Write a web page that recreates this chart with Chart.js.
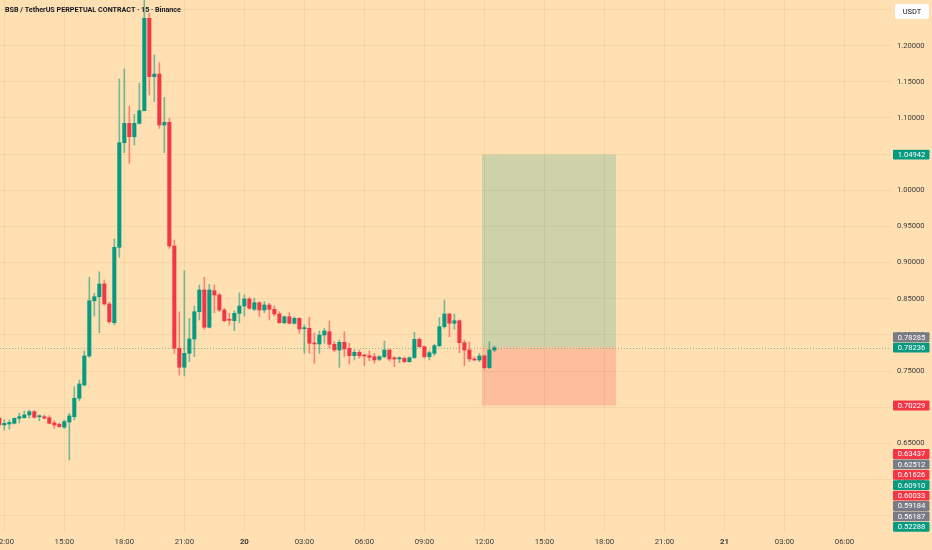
<!DOCTYPE html>
<html>
<head>
<meta charset="utf-8">
<script src="https://cdn.jsdelivr.net/npm/chart.js@4.4.0/dist/chart.umd.min.js"></script>
<style>
  html, body { margin: 0; padding: 0; background: #ffe0b2; }
</style>
</head>
<body>
<canvas id="chart" width="932" height="550"></canvas>
<script>
// 15 minute candles, index 0 = 12:00 on the 19th
const firstIndex = -1;

const opens = [
  0.6850, 0.6754, 0.6768, 0.6777, 0.6846, 0.6854, 0.6892, 0.6937, 0.6868, 0.6868,
  0.6854, 0.6782, 0.6764, 0.6723, 0.6795, 0.6868, 0.7123, 0.7307, 0.7708, 0.8472,
  0.8528, 0.8704, 0.8427, 0.8168, 0.9211, 1.0658, 1.0926, 1.0741, 1.0926, 1.1101,
  1.2379, 1.1571, 1.1608, 1.0903, 1.0940, 0.9229, 0.7814, 0.7552, 0.7745, 0.7943,
  0.8320, 0.8621, 0.8105, 0.8611, 0.8552, 0.8344, 0.8209, 0.8196, 0.8298, 0.8399,
  0.8496, 0.8354, 0.8445, 0.8344, 0.8413, 0.8354, 0.8289, 0.8168, 0.8251, 0.8160,
  0.8229, 0.8086, 0.8091, 0.7884, 0.7874, 0.7998, 0.8044, 0.7870, 0.7791, 0.7897,
  0.7814, 0.7712, 0.7759, 0.7717, 0.7712, 0.7698, 0.7662, 0.7698, 0.7791, 0.7684,
  0.7667, 0.7676, 0.7629, 0.7684, 0.7939, 0.7836, 0.7698, 0.7745, 0.7850, 0.8113,
  0.8289, 0.8160, 0.8196, 0.7892, 0.7791, 0.7667, 0.7653, 0.7708, 0.7546, 0.7791
];
const highs = [
  0.6892, 0.6823, 0.6823, 0.6850, 0.6919, 0.6947, 0.6961, 0.6954, 0.6892, 0.6892,
  0.6882, 0.6813, 0.6777, 0.6823, 0.6915, 0.7284, 0.7376, 0.7777, 0.8796, 0.8575,
  0.8874, 0.8759, 0.8455, 0.9326, 1.1539, 1.1678, 1.1166, 1.1051, 1.1480, 1.2743,
  1.2448, 1.1871, 1.1765, 1.1286, 1.0996, 0.9312, 0.8320, 0.8888, 0.8229, 0.8399,
  0.8690, 0.8796, 0.8700, 0.8690, 0.8575, 0.8368, 0.8298, 0.8330, 0.8583, 0.8552,
  0.8520, 0.8506, 0.8459, 0.8459, 0.8436, 0.8399, 0.8320, 0.8261, 0.8307, 0.8251,
  0.8237, 0.8137, 0.8243, 0.8022, 0.8054, 0.8091, 0.8192, 0.7906, 0.7929, 0.8044,
  0.7884, 0.7791, 0.7791, 0.7735, 0.7777, 0.7745, 0.7712, 0.7915, 0.7801, 0.7698,
  0.7698, 0.7698, 0.7698, 0.8036, 0.7961, 0.7846, 0.7777, 0.7870, 0.8237, 0.8482,
  0.8298, 0.8289, 0.8206, 0.7929, 0.7906, 0.7698, 0.7745, 0.7722, 0.7906, 0.7846
];
const lows = [
  0.6698, 0.6684, 0.6698, 0.6768, 0.6782, 0.6850, 0.6850, 0.6850, 0.6813, 0.6837,
  0.6768, 0.6708, 0.6723, 0.6708, 0.6269, 0.6823, 0.7090, 0.7293, 0.7690, 0.8261,
  0.8030, 0.8413, 0.8160, 0.8137, 0.9073, 1.0520, 1.0373, 1.0626, 1.0917, 1.1097,
  1.1318, 1.1225, 1.0857, 1.0520, 0.9197, 0.7745, 0.7445, 0.7431, 0.7629, 0.7698,
  0.8206, 0.8077, 0.8095, 0.8307, 0.8320, 0.8182, 0.8137, 0.8058, 0.8168, 0.8261,
  0.8354, 0.8334, 0.8251, 0.8307, 0.8206, 0.8261, 0.8160, 0.8150, 0.8150, 0.8150,
  0.8022, 0.7745, 0.7745, 0.7607, 0.7745, 0.7884, 0.7814, 0.7767, 0.7552, 0.7698,
  0.7597, 0.7653, 0.7676, 0.7574, 0.7643, 0.7607, 0.7643, 0.7684, 0.7639, 0.7560,
  0.7615, 0.7615, 0.7621, 0.7676, 0.7828, 0.7676, 0.7653, 0.7712, 0.7836, 0.8091,
  0.7975, 0.8077, 0.7753, 0.7570, 0.7629, 0.7643, 0.7629, 0.7528, 0.7532, 0.7767
];
const closes = [
  0.6754, 0.6777, 0.6788, 0.6846, 0.6868, 0.6892, 0.6937, 0.6860, 0.6878, 0.6850,
  0.6777, 0.6754, 0.6731, 0.6800, 0.6878, 0.7123, 0.7321, 0.7708, 0.8472, 0.8528,
  0.8704, 0.8427, 0.8182, 0.9211, 1.0658, 1.0926, 1.0741, 1.0926, 1.1101, 1.2379,
  1.1571, 1.1608, 1.0903, 1.0940, 0.9229, 0.7814, 0.7552, 0.7745, 0.7943, 0.8320,
  0.8621, 0.8105, 0.8621, 0.8552, 0.8344, 0.8196, 0.8203, 0.8298, 0.8399, 0.8496,
  0.8368, 0.8445, 0.8344, 0.8413, 0.8354, 0.8289, 0.8168, 0.8251, 0.8160, 0.8229,
  0.8081, 0.8095, 0.7884, 0.7874, 0.7998, 0.8054, 0.7870, 0.7791, 0.7897, 0.7805,
  0.7712, 0.7759, 0.7712, 0.7708, 0.7690, 0.7653, 0.7698, 0.7791, 0.7667, 0.7667,
  0.7684, 0.7629, 0.7684, 0.7939, 0.7836, 0.7698, 0.7753, 0.7850, 0.8113, 0.8289,
  0.8160, 0.8196, 0.7892, 0.7791, 0.7667, 0.7653, 0.7708, 0.7546, 0.7791, 0.78236
];

const timeTicks = [0, 12, 24, 36, 48, 60, 72, 84, 96, 108, 120, 132, 144, 156, 168];
const timeLabels = ['12:00', '15:00', '18:00', '21:00', '20', '03:00', '06:00', '09:00',
                    '12:00', '15:00', '18:00', '21:00', '21', '03:00', '06:00'];
const dayLabels = ['20', '21'];
const priceTicks = [0.55, 0.60, 0.65, 0.70, 0.75, 0.80, 0.85, 0.90, 0.95, 1.00, 1.05, 1.10, 1.15, 1.20, 1.25];

// long position tool
const posFrom = 95.5, posTo = 122.3;
const posEntry = 0.78285, posTarget = 1.04942, posStop = 0.70229;
const lastPrice = 0.78236;

// price scale badges
const badgeValues = [1.04942, 0.78285, 0.78236, 0.70229,
                     0.63437, 0.62512, 0.61626, 0.60910, 0.60033, 0.59184, 0.56187, 0.52288];
const badgeKinds  = ['up', 'gray', 'up', 'down',
                     'down', 'gray', 'down', 'up', 'down', 'gray', 'gray', 'up'];

const GREEN = '#089981', RED = '#f23645', GRAY = '#787b86';
const kindColor = { up: GREEN, down: RED, gray: GRAY };
const gridColor = 'rgba(130, 90, 30, 0.08)';
const textColor = '#3b3b3b';
const title = 'BSB / TetherUS PERPETUAL CONTRACT · 15 · Binance';

const idx = opens.map((_, k) => firstIndex + k);
const isUp = opens.map((o, k) => closes[k] >= o);

const overlay = {
  id: 'overlay',
  beforeDatasetsDraw(chart) {
    const { ctx, chartArea: a, scales: { x, y } } = chart;
    const x0 = x.getPixelForValue(posFrom), x1 = x.getPixelForValue(posTo);
    const yT = y.getPixelForValue(posTarget), yE = y.getPixelForValue(posEntry), yS = y.getPixelForValue(posStop);
    ctx.save();
    ctx.fillStyle = 'rgba(8, 153, 129, 0.2)';
    ctx.fillRect(x0, yT, x1 - x0, yE - yT);
    ctx.fillStyle = 'rgba(242, 54, 69, 0.2)';
    ctx.fillRect(x0, yE, x1 - x0, yS - yE);
    // last price line
    const yL = Math.round(y.getPixelForValue(lastPrice)) + 0.5;
    ctx.strokeStyle = 'rgba(8, 153, 129, 0.5)';
    ctx.lineWidth = 1;
    ctx.setLineDash([1, 2]);
    ctx.beginPath();
    ctx.moveTo(a.left, yL);
    ctx.lineTo(a.right, yL);
    ctx.stroke();
    ctx.restore();
  },
  afterDraw(chart) {
    const { ctx, chartArea: a, scales: { y } } = chart;
    ctx.save();
    // title, sized to the width it has in the screenshot
    ctx.fillStyle = '#131722';
    ctx.font = 'bold 10px Roboto';
    const size = 10 * 176 / ctx.measureText(title).width;
    ctx.font = 'bold ' + size.toFixed(2) + 'px Roboto';
    ctx.textBaseline = 'middle';
    ctx.textAlign = 'left';
    ctx.fillText(title, 5, 10.5);

    // currency box
    ctx.fillStyle = '#ffffff';
    ctx.beginPath();
    ctx.roundRect(895, 4, 34, 15, 2);
    ctx.fill();
    ctx.fillStyle = '#131722';
    ctx.font = '7.5px Roboto';
    ctx.textAlign = 'center';
    ctx.fillText('USDT', 912, 11.8);

    // badges, pushed apart so they do not overlap
    const h = 10.4;
    const nat = badgeValues.map(v => y.getPixelForValue(v));
    const pos = nat.slice();
    const li = badgeValues.indexOf(lastPrice);
    for (let k = li - 1; k >= 0; k--) pos[k] = Math.min(nat[k], pos[k + 1] - h);
    for (let k = li + 1; k < pos.length; k++) pos[k] = Math.max(nat[k], pos[k - 1] + h);
    pos[pos.length - 1] = Math.min(pos[pos.length - 1], a.bottom - h / 2);
    for (let k = pos.length - 2; k > li; k--) pos[k] = Math.min(pos[k], pos[k + 1] - h);

    ctx.font = '7.6px Roboto';
    badgeValues.forEach((v, k) => {
      const cy = pos[k];
      ctx.fillStyle = kindColor[badgeKinds[k]];
      ctx.beginPath();
      ctx.roundRect(893, cy - h / 2 + 0.3, 36.5, h - 0.6, 1);
      ctx.fill();
      ctx.fillStyle = '#ffffff';
      ctx.fillText(v.toFixed(5), 911.5, cy + 0.5);
    });
    ctx.restore();
  }
};

new Chart(document.getElementById('chart'), {
  type: 'bar',
  data: {
    datasets: [
      {
        label: 'body',
        data: idx.map((v, k) => ({ x: v, y: [opens[k], closes[k]] })),
        backgroundColor: isUp.map(u => (u ? GREEN : RED)),
        barThickness: 3.4,
        minBarLength: 1,
        grouped: false,
        order: 1
      },
      {
        label: 'wick',
        data: idx.map((v, k) => ({ x: v, y: [lows[k], highs[k]] })),
        backgroundColor: isUp.map(u => (u ? 'rgba(8,153,129,0.55)' : 'rgba(242,54,69,0.55)')),
        barThickness: 1,
        grouped: false,
        order: 2
      }
    ]
  },
  options: {
    responsive: false,
    animation: false,
    layout: { padding: 0 },
    plugins: { legend: { display: false }, tooltip: { enabled: false } },
    scales: {
      x: {
        type: 'linear',
        min: -0.86,
        max: 177.3,
        offset: false,
        grid: { color: gridColor, drawTicks: false, offset: false },
        border: { display: false },
        afterBuildTicks: s => { s.ticks = timeTicks.map(v => ({ value: v })); },
        afterFit: s => { s.height = 18; s.paddingLeft = 0; s.paddingRight = 0; },
        ticks: {
          autoSkip: false,
          maxRotation: 0,
          padding: 5,
          color: textColor,
          font: c => ({ family: 'Roboto', size: 7.8,
                        weight: dayLabels.includes(timeLabels[c.index]) ? 'bold' : 'normal' }),
          callback: (v, i) => timeLabels[i]
        }
      },
      y: {
        position: 'right',
        min: 0.52734,
        max: 1.2632,
        grid: { color: gridColor, drawTicks: false },
        border: { display: false },
        afterBuildTicks: s => { s.ticks = priceTicks.map(v => ({ value: v })); },
        afterFit: s => { s.width = 41; s.paddingTop = 0; s.paddingBottom = 0; },
        ticks: {
          padding: 6,
          color: textColor,
          font: { family: 'Roboto', size: 7.6 },
          callback: v => v.toFixed(5)
        }
      }
    }
  },
  plugins: [overlay]
});
</script>
</body>
</html>
